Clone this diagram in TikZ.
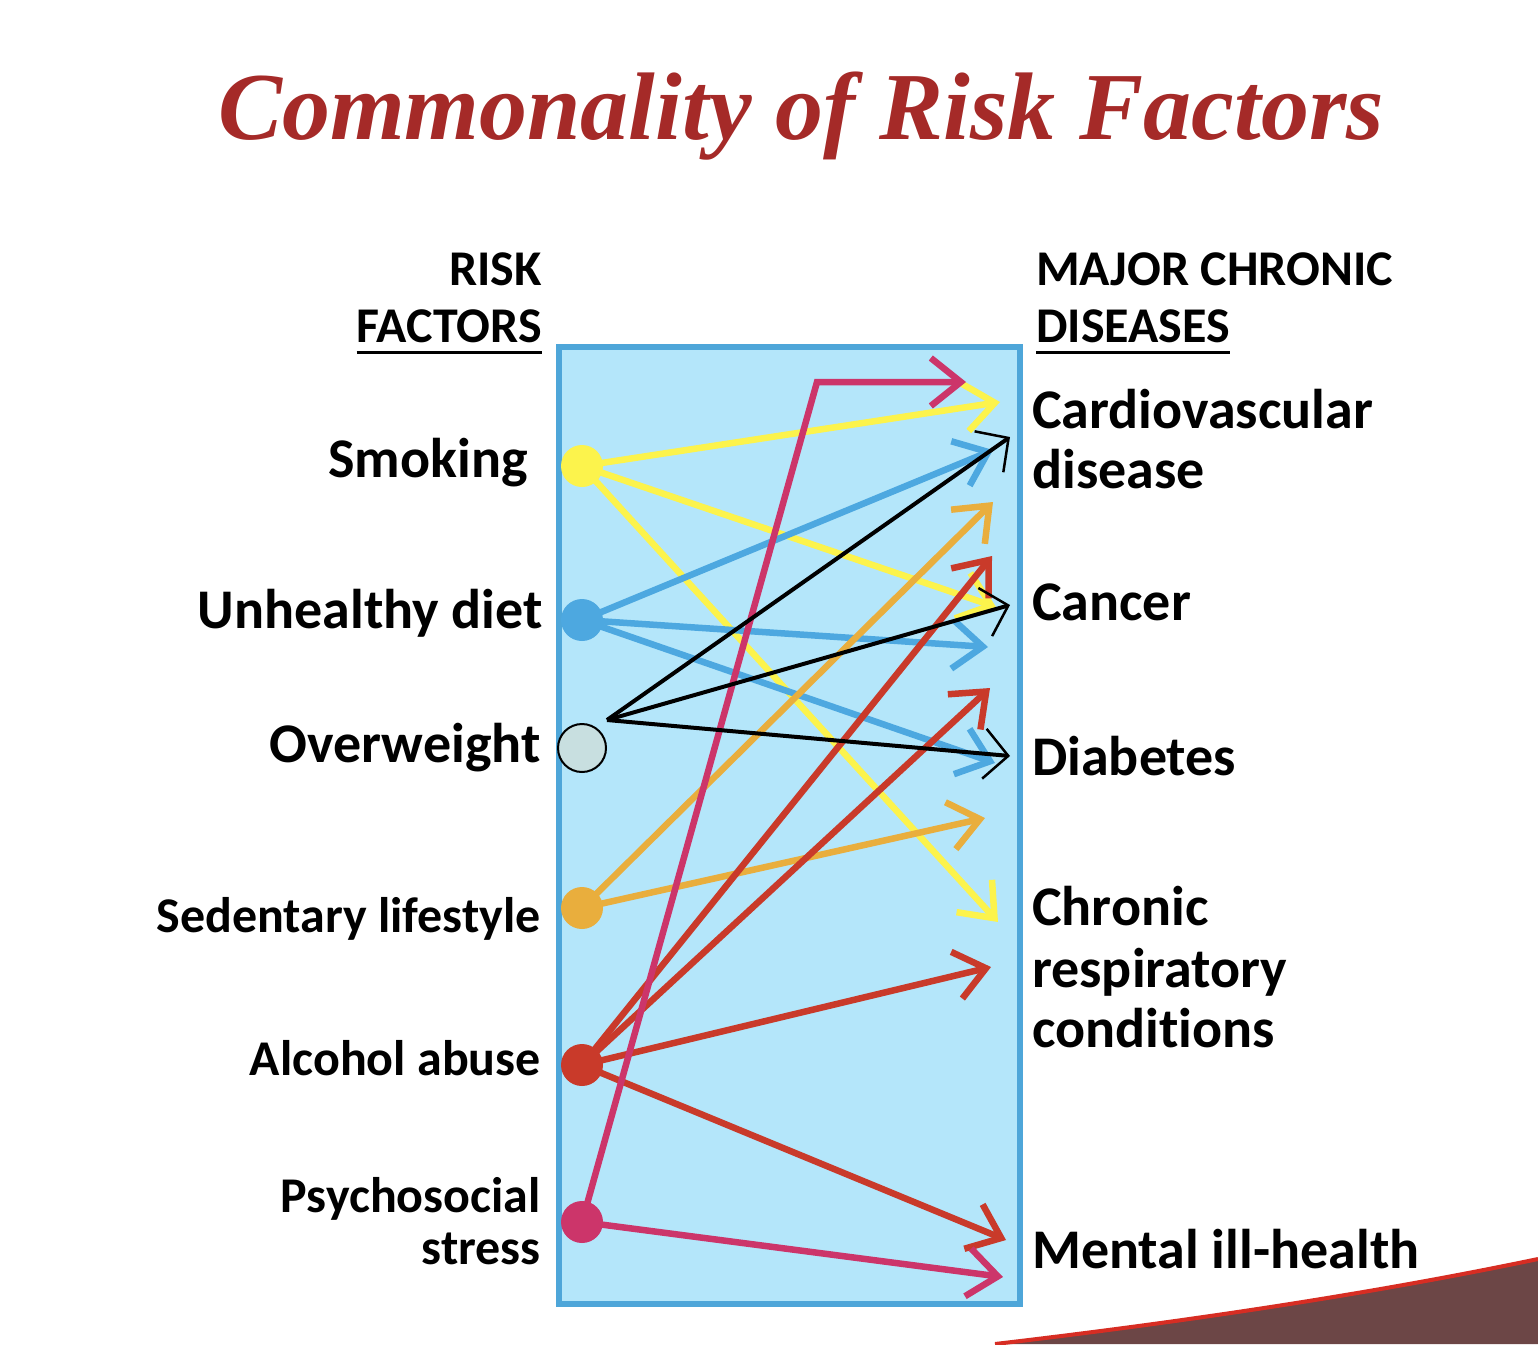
\documentclass[tikz,border=0pt]{standalone}
\usepackage{fontspec}
\setmainfont{Carlito}[Ligatures=NoCommon]
\newfontfamily\titlefont{Liberation Serif}
\usetikzlibrary{arrows.meta}
\definecolor{titlered}{RGB}{165,42,40}
\definecolor{boxfill}{RGB}{180,230,250}
\definecolor{boxline}{RGB}{78,166,217}
\definecolor{cyel}{RGB}{252,243,76}
\definecolor{cblue}{RGB}{77,168,224}
\definecolor{cgray}{RGB}{200,223,224}
\definecolor{corange}{RGB}{233,174,61}
\definecolor{cred}{RGB}{201,58,42}
\definecolor{cpink}{RGB}{204,53,106}
\definecolor{maroon}{RGB}{108,70,70}
\definecolor{edgered}{RGB}{215,45,35}
\tikzset{
  lbl/.style={inner sep=0pt, font=\fontsize{56}{60}\selectfont\bfseries},
  lblsm/.style={inner sep=0pt, font=\fontsize{50}{54}\selectfont\bfseries},
  dot/.style={circle, inner sep=0pt, minimum size=42pt},
  link/.style={line width=6.5pt, -{Straight Barb[length=30pt,width=48pt]}},
  blink/.style={line width=4pt, draw=black, -{Straight Barb[length=24pt,width=50pt,line width=2.5pt]}},
}
\begin{document}
\begin{tikzpicture}[x=1pt,y=-1pt]
\useasboundingbox (0,0) rectangle (1538,1344);
\fill[white] (0,0) rectangle (1538,1344);
% bottom-right decoration
\fill[maroon] (995,1344) .. controls (1200,1320) and (1380,1292) .. (1538,1259) -- (1538,1344) -- cycle;
\draw[edgered, line width=4pt] (995,1344) .. controls (1200,1320) and (1380,1292) .. (1538,1259);
% title
\node[anchor=base west, inner sep=0pt, text=titlered, font=\titlefont\bfseries\itshape\fontsize{96}{100}\selectfont] (title) at (218,139) {Commonality of Risk Factors};
% headers
\node[lblsm, anchor=base east] (h1a) at (542,285) {RISK};
\node[lblsm, anchor=base east] (h1b) at (542,342) {FACTORS};
\draw[line width=3pt] ([yshift=-10pt]h1b.base west) -- ([yshift=-10pt]h1b.base east);
\node[lblsm, anchor=base west] (h2a) at (1036,285) {MAJOR CHRONIC};
\node[lblsm, anchor=base west] (h2b) at (1036,342) {DISEASES};
\draw[line width=3pt] ([yshift=-10pt]h2b.base west) -- ([yshift=-10pt]h2b.base east);
% box
\draw[boxline, fill=boxfill, line width=6pt] (559,347) rectangle (1020,1304);
% tips
\coordinate (t-cv-y) at (1000,402);
\coordinate (t-cv-b) at (993,450);
\coordinate (t-cv-k) at (1010,437);
\coordinate (t-o1) at (993,502);
\coordinate (t-r1) at (992,556);
\coordinate (t-ca-y) at (996,607);
\coordinate (t-ca-k) at (1010,605);
\coordinate (t-ca-b) at (988,647);
\coordinate (t-r2) at (990,688);
\coordinate (t-di-k) at (1010,756);
\coordinate (t-di-b) at (995,763);
\coordinate (t-o2) at (985,818);
\coordinate (t-cr-y) at (998,922);
\coordinate (t-r3) at (991,967);
\coordinate (t-mh-r) at (1006,1240);
\coordinate (t-mh-p) at (1003,1277);
\coordinate (bend) at (817,382);
\coordinate (t-top-p) at (966,382);
\coordinate (ow-src) at (607,720);
% nodes positions
\coordinate (smk) at (582,466);
\coordinate (diet) at (582,620);
\coordinate (ow) at (582,748);
\coordinate (sed) at (582,908);
\coordinate (alc) at (582,1065);
\coordinate (str) at (582,1222);
% links
\draw[link, draw=cyel] (smk) -- (t-cv-y);
\draw[link, draw=cyel] (smk) -- (t-ca-y);
\draw[link, draw=cyel] (smk) -- (t-cr-y);
\draw[link, draw=cblue] (diet) -- (t-cv-b);
\draw[link, draw=cblue] (diet) -- (t-ca-b);
\draw[link, draw=cblue] (diet) -- (t-di-b);
\draw[link, draw=corange] (sed) -- (t-o1);
\draw[link, draw=corange] (sed) -- (t-o2);
\draw[link, draw=cred] (alc) -- (t-r1);
\draw[link, draw=cred] (alc) -- (t-r2);
\draw[link, draw=cred] (alc) -- (t-r3);
\draw[link, draw=cred] (alc) -- (t-mh-r);
\draw[link, draw=cpink] (str) -- (bend) -- (t-top-p);
\draw[link, draw=cpink] (str) -- (t-mh-p);
\draw[blink] (ow-src) -- (t-cv-k);
\draw[blink] (ow-src) -- (t-ca-k);
\draw[blink] (ow-src) -- (t-di-k);
% dots
\node[dot, fill=cyel] (n-smk) at (smk) {};
\node[dot, fill=cblue] (n-diet) at (diet) {};
\node[dot, fill=cgray, draw=black, line width=2pt, minimum size=48pt] (n-ow) at (ow) {};
\node[dot, fill=corange] (n-sed) at (sed) {};
\node[dot, fill=cred] (n-alc) at (alc) {};
\node[dot, fill=cpink] (n-str) at (str) {};
% left labels
\node[lbl, anchor=base east] (l-smk) at (528,477) {Smoking};
\node[lbl, anchor=base east] (l-diet) at (543,628) {Unhealthy diet};
\node[lbl, anchor=base east] (l-ow) at (541,762) {Overweight};
\node[lblsm, anchor=base east] (l-sed) at (541,932) {Sedentary lifestyle};
\node[lblsm, anchor=base east] (l-alc) at (541,1075) {Alcohol abuse};
\node[lblsm, anchor=base east] (l-str1) at (541,1212) {Psychosocial};
\node[lblsm, anchor=base east] (l-str2) at (541,1264) {stress};
% right labels
\node[lbl, anchor=base west] (r-cv1) at (1032,428) {Cardiovascular};
\node[lbl, anchor=base west] (r-cv2) at (1032,488) {disease};
\node[lbl, anchor=base west] (r-ca) at (1032,620) {Cancer};
\node[lbl, anchor=base west] (r-di) at (1032,775) {Diabetes};
\node[lbl, anchor=base west] (r-cr1) at (1032,925) {Chronic};
\node[lbl, anchor=base west] (r-cr2) at (1032,987) {respiratory};
\node[lbl, anchor=base west] (r-cr3) at (1032,1047) {conditions};
\node[lbl, anchor=base west] (r-mh) at (1032,1268) {Mental ill-health};
\end{tikzpicture}
\end{document}
